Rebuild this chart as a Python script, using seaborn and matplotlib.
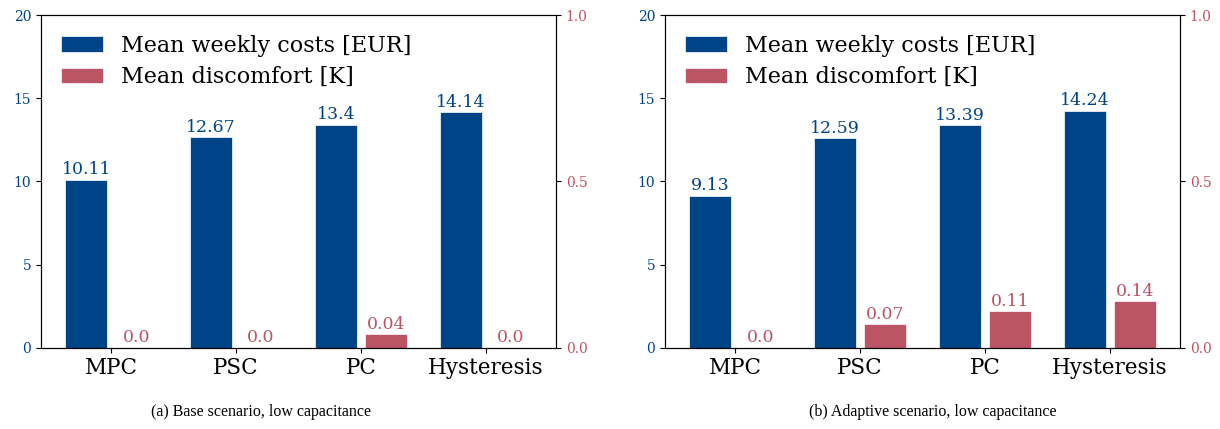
import pandas as pd
import seaborn as sns
import matplotlib.pyplot as plt

plt.rcParams['font.family'] = ['DejaVu Serif']

# Data
controllers = ['MPC', 'PSC', 'PC', 'Hysteresis']
costs_base = [10.11, 12.67, 13.4, 14.14]
discomfort_base = [0.0, 0.0, 0.04, 0.0]
costs_adaptive = [9.13, 12.59, 13.39, 14.24]
discomfort_adaptive = [0.0, 0.07, 0.11, 0.14]
captions = ['(a) Base scenario, low capacitance', '(b) Adaptive scenario, low capacitance']

cost_label = 'Mean weekly costs [EUR]'
disc_label = 'Mean discomfort [K]'
blue = '#004488'
red = '#BB5566'
cost_max = 20
disc_max = 1.0
scale = cost_max / disc_max

fig = plt.figure(figsize=(12.2, 4.29), dpi=100)
ax_a = fig.add_axes([0.0336, 0.1895, 0.4221, 0.7755])
ax_b = fig.add_axes([0.5451, 0.1895, 0.4221, 0.7755])

panels = [(ax_a, costs_base, discomfort_base, captions[0], 0.2143),
          (ax_b, costs_adaptive, discomfort_adaptive, captions[1], 0.7648)]

for ax, costs, disc, cap, cap_x in panels:
    # discomfort is drawn on the cost scale, the twin axis shows its own ticks
    df = pd.DataFrame({
        'controller': controllers * 2,
        'value': costs + [d * scale for d in disc],
        'metric': [cost_label] * 4 + [disc_label] * 4,
    })
    sns.barplot(data=df, x='controller', y='value', hue='metric', ax=ax,
                palette=[blue, red], saturation=1, width=0.8, gap=0.15,
                edgecolor='white', linewidth=0.5, errorbar=None)
    ax.bar_label(ax.containers[0], labels=[str(v) for v in costs], padding=1,
                 color=blue, fontsize=12.5)
    ax.bar_label(ax.containers[1], labels=[str(v) for v in disc], padding=1,
                 color=red, fontsize=12.5)

    ax.set_xlim(-0.5625, 3.5625)
    ax.set_ylim(0, cost_max)
    ax.set_yticks([0, 5, 10, 15, 20])
    ax.tick_params(axis='y', labelcolor=blue, labelsize=10)
    ax.tick_params(axis='x', labelsize=15.5)
    ax.set_xlabel('')
    ax.set_ylabel('')

    ax2 = ax.twinx()
    ax2.set_ylim(0, disc_max)
    ax2.set_yticks([0.0, 0.5, 1.0])
    ax2.tick_params(axis='y', labelcolor=red, labelsize=10)

    ax.legend(loc='upper left', frameon=False, fontsize=16, handlelength=1.9,
              handleheight=0.7, labelspacing=0.42)

    fig.text(cap_x, 0.0396, cap, ha='center', va='center',
             family='Liberation Serif', fontsize=11.5)

plt.savefig('out.png', dpi=100)
